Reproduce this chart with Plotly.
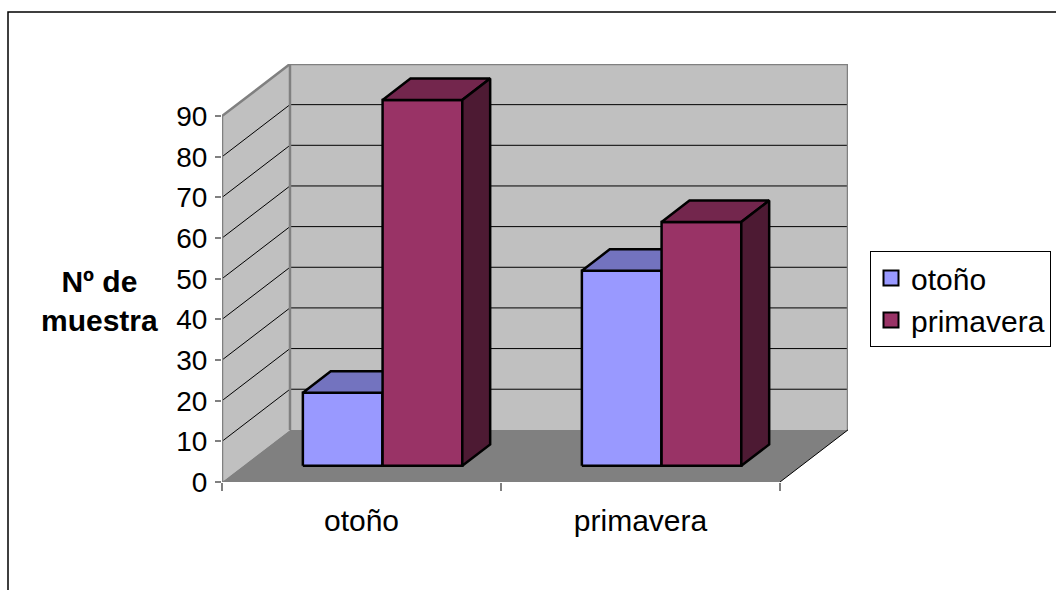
import plotly.graph_objects as go

# ---- data ----
categories = ["otoño", "primavera"]
series_names = ["otoño", "primavera"]
otono_values = [18, 48]
primavera_values = [90, 60]
y_tick_values = [0, 10, 20, 30, 40, 50, 60, 70, 80, 90]
y_title = "Nº de<br>muestra"

# ---- style / projection ----
FONT = "Liberation Sans, Arial, sans-serif"
front_colors = ["#9999FF", "#993366"]
top_colors = ["#7373BF", "#73264D"]
side_colors = ["#4D4D80", "#4D1A33"]
WALL = "#C0C0C0"
FLOOR = "#808080"
EDGE = "#808080"
YMAX = 90
DX = 0.2437      # oblique depth shift (x units)
DY = 12.82       # oblique depth shift (value units)
BAR_W = 1 / 3.5  # gap width 150%
F1, F2 = 0.31, 0.72  # bar front/back depth fractions
NCAT = len(categories)

W, H = 1056, 590
ML, MR, MT, MB = 222, 208, 64, 108
PW, PH = W - ML - MR, H - MT - MB


def px2paper_x(px):
    return (px - ML) / PW


def px2paper_y(py):
    return (H - MB - py) / PH


fig = go.Figure()


def poly(xs, ys, fill, line_color=None, line_width=0):
    fig.add_trace(go.Scatter(
        x=list(xs) + [xs[0]], y=list(ys) + [ys[0]], mode="lines",
        fill="toself", fillcolor=fill,
        line=dict(color=line_color or fill, width=line_width),
        showlegend=False, hoverinfo="skip"))


def lines(xs, ys, color, width):
    fig.add_trace(go.Scatter(x=xs, y=ys, mode="lines",
                             line=dict(color=color, width=width),
                             showlegend=False, hoverinfo="skip"))


# walls
poly([0, DX, DX, 0], [0, DY, DY + YMAX, YMAX], WALL)
poly([DX, NCAT + DX, NCAT + DX, DX], [DY, DY, DY + YMAX, DY + YMAX], WALL)

# gridlines (back wall + side wall)
gx, gy = [], []
for v in y_tick_values[1:-1]:
    gx += [0, DX, NCAT + DX, None]
    gy += [v, v + DY, v + DY, None]
lines(gx, gy, "black", 1)

# floor
poly([0, NCAT, NCAT + DX, DX], [0, 0, DY, DY], FLOOR)

# wall borders
lines([0, 0, DX, NCAT + DX, NCAT + DX], [0, YMAX, YMAX + DY, YMAX + DY, DY], EDGE, 2.5)
lines([DX, DX], [DY, DY + YMAX], EDGE, 2.5)
lines([NCAT, NCAT + DX], [0, DY], "black", 1)
lines([0, NCAT], [0, 0], EDGE, 2.5)

# bars
for s, vals in enumerate([otono_values, primavera_values]):
    for i, v in enumerate(vals):
        x0 = i + 0.5 - BAR_W + s * BAR_W
        ax, ay = x0 + F1 * DX, F1 * DY
        bx, by = x0 + F2 * DX, F2 * DY
        # front
        poly([ax, ax + BAR_W, ax + BAR_W, ax], [ay, ay, ay + v, ay + v],
             front_colors[s], "black", 2.5)
        # top
        poly([ax, ax + BAR_W, bx + BAR_W, bx], [ay + v, ay + v, by + v, by + v],
             top_colors[s], "black", 2.5)
        # side
        poly([ax + BAR_W, bx + BAR_W, bx + BAR_W, ax + BAR_W], [ay, by, by + v, ay + v],
             side_colors[s], "black", 2.5)

# legend entries
for s, name in enumerate(series_names):
    fig.add_trace(go.Scatter(
        x=[None], y=[None], mode="markers", name=name,
        marker=dict(symbol="square", size=15, color=front_colors[s],
                    line=dict(color="black", width=2))))

fig.update_layout(
    width=W, height=H, autosize=False,
    margin=dict(l=ML, r=MR, t=MT, b=MB, pad=0),
    paper_bgcolor="white", plot_bgcolor="white",
    font=dict(family=FONT, color="black"),
    xaxis=dict(range=[0, NCAT + DX], showgrid=False, zeroline=False, showline=False,
               tickvals=[i + 0.5 for i in range(NCAT)], ticktext=categories,
               ticks="", tickfont=dict(size=30, family=FONT, color="black"),
               ticklabelstandoff=18, automargin=False,
               minor=dict(tickvals=list(range(NCAT + 1)), ticks="outside", ticklen=8,
                          tickcolor=EDGE, tickwidth=2, showgrid=False),
               fixedrange=True),
    yaxis=dict(range=[0, YMAX + DY], showgrid=False, zeroline=False, showline=False,
               tickvals=y_tick_values, ticks="outside", ticklen=6, tickcolor=EDGE,
               tickwidth=2, tickfont=dict(size=28, family=FONT, color="black"),
               ticklabelstandoff=2, automargin=False, fixedrange=True),
    showlegend=True,
    legend=dict(xref="container", yref="container",
                x=870 / W, y=1 - 251 / H, xanchor="left", yanchor="top",
                bordercolor="black", borderwidth=1, bgcolor="white",
                font=dict(size=30, family=FONT, color="black"), tracegroupgap=0),
    annotations=[dict(text="<b>" + y_title.replace("<br>", "</b><br><b>") + "</b>",
                      xref="paper", yref="paper",
                      x=px2paper_x(99), y=px2paper_y(301), xanchor="center", yanchor="middle",
                      showarrow=False, align="center",
                      font=dict(size=30, family=FONT, color="black"))],
    shapes=[dict(type="rect", xref="paper", yref="paper", layer="below",
                 x0=px2paper_x(8), x1=px2paper_x(1075), y0=px2paper_y(610), y1=px2paper_y(12),
                 line=dict(color="black", width=1.5), fillcolor="rgba(0,0,0,0)")],
)

fig.write_html("out.html")
